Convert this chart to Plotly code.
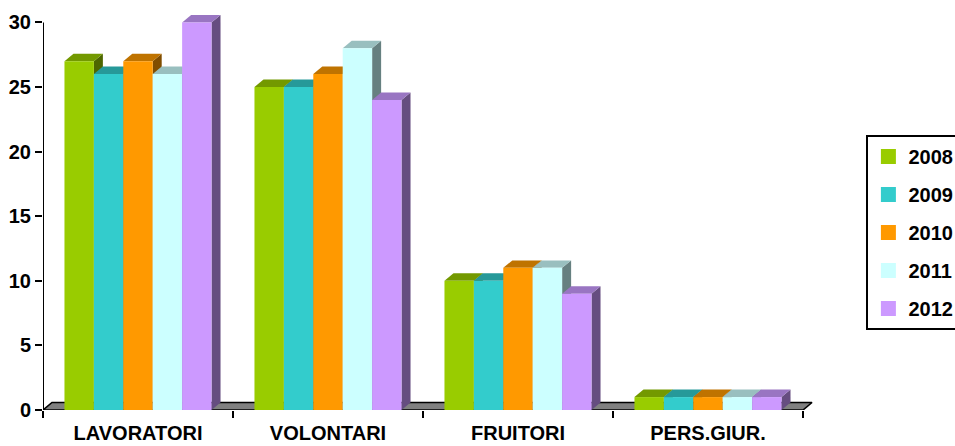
import plotly.graph_objects as go

# Data
categories = ["LAVORATORI", "VOLONTARI", "FRUITORI", "PERS.GIUR."]
years = ["2008", "2009", "2010", "2011", "2012"]
values_2008 = [27, 25, 10, 1]
values_2009 = [26, 25, 10, 1]
values_2010 = [27, 26, 11, 1]
values_2011 = [26, 28, 11, 1]
values_2012 = [30, 24, 9, 1]
series = [values_2008, values_2009, values_2010, values_2011, values_2012]

# Styles: front, top, side colours for each year
front_colors = ["#99CC00", "#33CCCC", "#FF9900", "#CCFFFF", "#CC99FF"]
top_colors = ["#739900", "#269999", "#BF7300", "#99BFBF", "#9975C2"]
side_colors = ["#4D6600", "#1A6666", "#804D00", "#668080", "#664D80"]

# Pseudo-3D geometry in axis units
GROUP_WIDTH = 0.774
BAR_W = GROUP_WIDTH / len(years)
DEPTH_X = 9 / 190.0
DEPTH_Y = 0.58
X_MIN, X_MAX = -0.5, len(categories) - 0.5
Y_MAX_TICK = 30

FONT = "Liberation Sans, Arial, sans-serif"

fig = go.Figure()


def poly(xs, ys, color, line_color=None, width=0):
    fig.add_trace(go.Scatter(
        x=xs + [xs[0]], y=ys + [ys[0]], mode="lines", fill="toself",
        fillcolor=color, line=dict(color=line_color or color, width=width),
        hoverinfo="skip", showlegend=False))


# Floor
poly([X_MIN, X_MAX, X_MAX + DEPTH_X, X_MIN + DEPTH_X],
     [0, 0, DEPTH_Y, DEPTH_Y], "#808080", "black", 1.6)

# Bars: front, top and side faces
for ci in range(len(categories)):
    start = ci - GROUP_WIDTH / 2
    for si, vals in enumerate(series):
        v = vals[ci]
        x0 = start + si * BAR_W
        x1 = x0 + BAR_W
        # side
        poly([x1, x1 + DEPTH_X, x1 + DEPTH_X, x1],
             [0, DEPTH_Y, v + DEPTH_Y, v], side_colors[si])
        # top
        poly([x0, x1, x1 + DEPTH_X, x0 + DEPTH_X],
             [v, v, v + DEPTH_Y, v + DEPTH_Y], top_colors[si])
        # front
        poly([x0, x1, x1, x0], [0, 0, v, v], front_colors[si])

# Legend entries
for si, yr in enumerate(years):
    fig.add_trace(go.Scatter(
        x=[None], y=[None], mode="markers", name=yr, legendgroup=yr,
        marker=dict(symbol="square", size=15, color=front_colors[si]),
        showlegend=True))

# Vertical axis line from 0 to 30
fig.add_shape(type="line", xref="x", yref="y", x0=X_MIN, x1=X_MIN,
              y0=0, y1=Y_MAX_TICK, line=dict(color="black", width=2))

fig.update_layout(
    width=955, height=446,
    margin=dict(l=43, r=133, t=3, b=36, autoexpand=False),
    plot_bgcolor="white", paper_bgcolor="white",
    font=dict(family=FONT, size=19, color="black", weight="bold"),
    xaxis=dict(
        range=[X_MIN, 3.6], tickmode="array",
        tickvals=list(range(len(categories))), ticktext=categories,
        ticks="", showgrid=False, zeroline=False, showline=False,
        automargin=False,
        tickfont=dict(family=FONT, size=20, weight="bold"),
        ticklabelstandoff=9,
        minor=dict(tickmode="array",
                   tickvals=[i - 0.5 for i in range(len(categories) + 1)],
                   ticks="outside", ticklen=7, tickwidth=2,
                   tickcolor="black", showgrid=False),
    ),
    yaxis=dict(
        range=[0, 31.5], tickmode="array", tickvals=[0, 5, 10, 15, 20, 25, 30],
        ticks="outside", ticklen=7, tickwidth=2, tickcolor="black",
        showgrid=False, zeroline=False, showline=False,
        automargin=False,
        tickfont=dict(family=FONT, size=20, weight="bold"),
    ),
    legend=dict(
        x=1.057, xanchor="left", y=0.6757, yanchor="top",
        bordercolor="black", borderwidth=2, bgcolor="white",
        font=dict(family=FONT, size=20, weight="bold"),
        tracegroupgap=9, itemwidth=30,
    ),
    showlegend=True,
)

fig.write_html("out.html")
